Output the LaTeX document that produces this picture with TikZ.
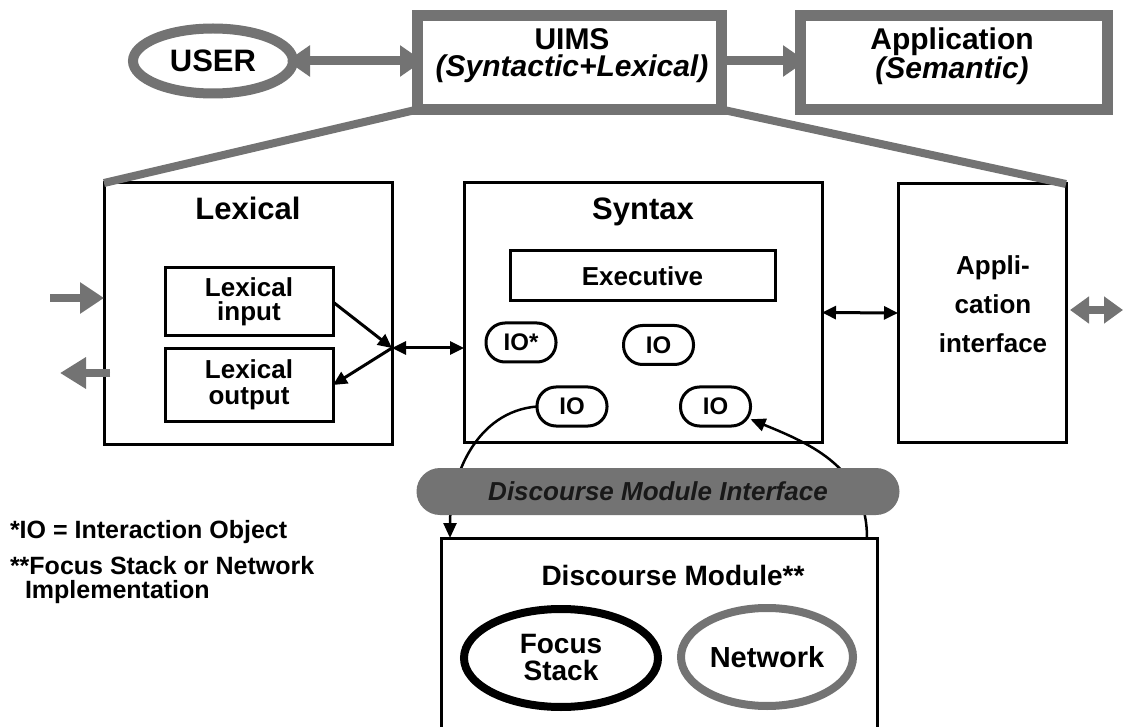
\documentclass[tikz,border=0pt]{standalone}
\usepackage{fontspec}
\setmainfont{Liberation Sans}
\usetikzlibrary{arrows.meta,shapes.geometric}
\newcommand{\myfs}[2]{\fontsize{#1}{#2}\selectfont}
\definecolor{pat}{gray}{0.45}
\begin{document}
\begin{tikzpicture}[x=1pt,y=-1pt,
  every node/.style={inner sep=0pt, outer sep=0pt, font=\bfseries},
  gframe/.style={draw=pat, line width=11pt, minimum width=304pt, minimum height=94pt},
  gline/.style={draw=pat, line width=8pt},
  garrow/.style={draw=pat, fill=pat, line width=9pt},
  bbox/.style={draw, line width=3pt},
  iopill/.style={draw, line width=3pt, rounded corners=19pt, minimum width=70pt, minimum height=39pt, font=\bfseries\myfs{24}{24}},
  barrow/.style={line width=3pt, -{Triangle[length=14pt,width=13pt]}},
  dbarrow/.style={line width=3pt, {Triangle[length=14pt,width=13pt]}-{Triangle[length=14pt,width=13pt]}},
  carrow/.style={line width=2.5pt, -{Triangle[length=15pt,width=13pt]}}
]
\useasboundingbox (0,0) rectangle (1125,727);
\fill[white] (0,0) rectangle (1125,727);

% top row
\node[ellipse, draw=pat, line width=10pt, minimum width=160pt, minimum height=65pt, font=\bfseries\myfs{31}{31}] (user) at (213,61) {USER};
\node[gframe] (uims) at (569.5,62.5) {};
\node[gframe, minimum width=307pt] (app) at (954,62.5) {};
\node[align=center, font=\bfseries\myfs{30}{27}] (uimsT) at (572,56) {UIMS\\\textit{(Syntactic+Lexical)}};
\node[align=center, font=\bfseries\myfs{30}{27}] (appT) at (952,56) {Application\\\textit{(Semantic)}};

\draw[garrow, arrows={Triangle[length=23pt,width=30pt]-Triangle[length=23pt,width=30pt]}, shorten <=-6pt, shorten >=-5.5pt] (user.east) -- (user.east -| uims.west);
\draw[garrow, arrows={-Triangle[length=23pt,width=30pt]}, shorten <=-5.5pt, shorten >=-5.5pt] (uims.east |- user.east) -- (user.east -| app.west);

% middle boxes
\node[bbox, minimum width=288pt, minimum height=261pt] (lex) at (248,313.5) {};
\node[bbox, minimum width=358pt, minimum height=259pt] (syn) at (643,312.5) {};
\node[bbox, minimum width=168pt, minimum height=258pt] (appi) at (982,313) {};

\draw[gline] (uims.south west) -- (lex.north west);
\draw[gline] (uims.south east) -- (appi.north east);

\node[anchor=base, font=\bfseries\myfs{31}{31}] (lexT) at (248,220) {Lexical};
\node[anchor=base, font=\bfseries\myfs{31}{31}] (synT) at (643,220) {Syntax};
\node[align=center, font=\bfseries\myfs{26}{39}] (appiT) at (993,304.5) {Appli-\\cation\\interface};

\node[bbox, minimum width=168pt, minimum height=68pt, align=center, font=\bfseries\myfs{26}{24}] (lin) at (249,302) {Lexical\\input};
\node[bbox, minimum width=168pt, minimum height=72pt, align=center, font=\bfseries\myfs{26}{26}] (lout) at (249,385) {Lexical\\output};
\node[bbox, minimum width=265pt, minimum height=50pt, font=\bfseries\myfs{26}{26}] (exec) at (642.5,276) {Executive};

\node[iopill] (io1) at (521,342.5) {IO*};
\node[iopill] (io2) at (658.5,345) {IO};
\node[iopill] (io3) at (572,406.5) {IO};
\node[iopill] (io4) at (715.5,406.5) {IO};

\coordinate (J) at (392,348);
\draw[barrow] (lin.east) -- (J);
\draw[barrow] (J) -- (lout.east);
\draw[dbarrow] (J) -- (J -| syn.west);
\draw[dbarrow] (syn.east) -- (appi.west);

% grey side arrows
\coordinate (inA) at (50,298);
\draw[garrow, line width=8pt, -{Triangle[length=24pt,width=30pt]}] (inA) -- (inA -| lex.west);
\coordinate (outA) at (110,373);
\coordinate (outB) at (60,373);
\draw[garrow, line width=8pt, -{Triangle[length=26pt,width=30pt]}] (outA) -- (outB);
\coordinate (rA) at (1070,310);
\coordinate (rB) at (1123,310);
\draw[garrow, line width=8pt, {Triangle[length=19pt,width=26pt]}-{Triangle[length=19pt,width=26pt]}] (rA) -- (rB);

% discourse module
\node[bbox, minimum width=436pt, minimum height=230pt, anchor=north] (dm) at (659,538) {};
\coordinate (dL) at ([xshift=9pt]dm.north west);
\coordinate (dR) at ([xshift=-10pt]dm.north east);
\draw[carrow] (io3.west) .. controls +(-61,5) and +(0,-61) .. (dL);
\draw[carrow] (dR) .. controls +(0,-70) and +(61,25) .. (io4.-20);

\node[fill=pat, rounded corners=23.5pt, minimum width=483pt, minimum height=47pt, text=black!90, font=\bfseries\itshape\myfs{26}{26}] (dmi) at (658,491.5) {Discourse Module Interface};

\node[anchor=base, font=\bfseries\myfs{28}{28}] (dmT) at (673,585) {Discourse Module**};
\node[ellipse, draw, line width=8pt, minimum width=194pt, minimum height=98pt, align=center, font=\bfseries\myfs{28}{27}] (fs) at (561,658) {Focus\\Stack};
\node[ellipse, draw=pat, line width=8pt, minimum width=172pt, minimum height=98pt, font=\bfseries\myfs{29}{29}] (nw) at (767,657) {Network};

% legend
\node[anchor=base west, font=\bfseries\myfs{25}{25}] (leg1) at (10,538) {*IO = Interaction Object};
\node[anchor=base west, font=\bfseries\myfs{25}{25}] (leg2) at (10,574) {**Focus Stack or Network};
\node[anchor=base west, font=\bfseries\myfs{25}{25}] (leg3) at (25,598) {Implementation};
\end{tikzpicture}
\end{document}
